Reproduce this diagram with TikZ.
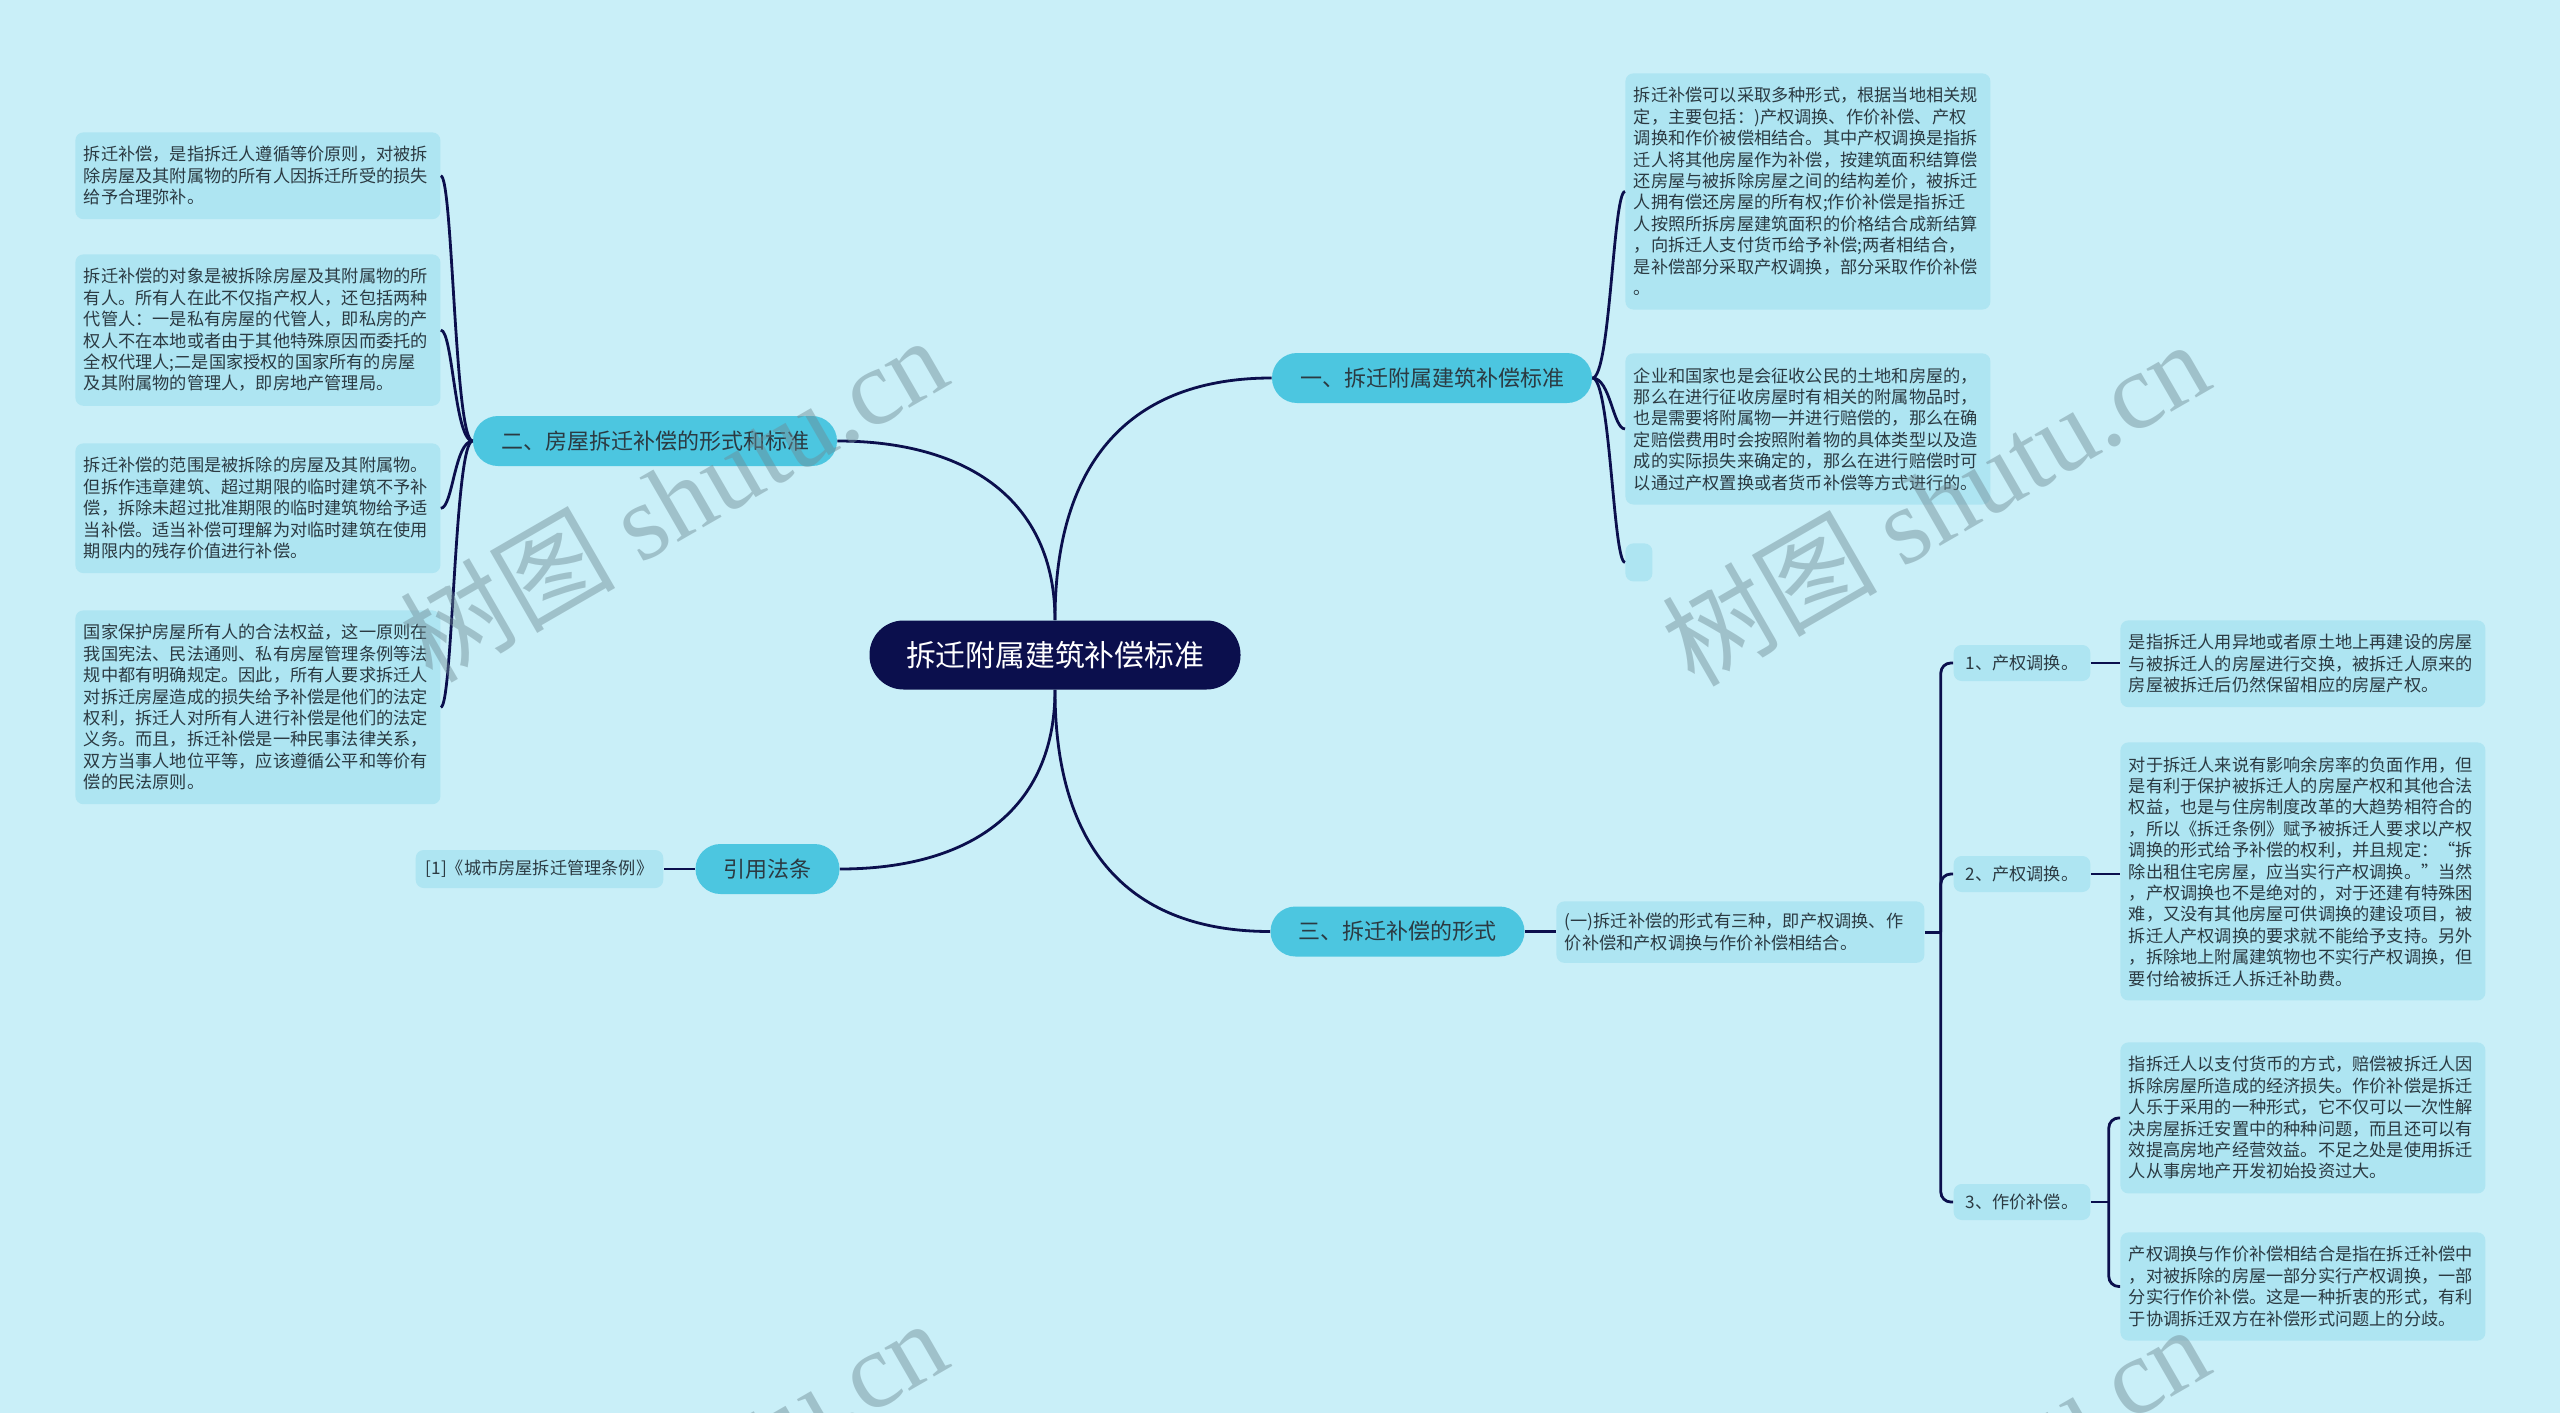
\documentclass[tikz,border=0pt]{standalone}
\usepackage{fontspec}
\setmainfont{Noto Sans CJK SC}
\newfontfamily\wmserif{Liberation Serif}

\definecolor{bgcol}{HTML}{C9EFF8}
\definecolor{leafcol}{HTML}{AEE5F2}
\definecolor{branchcol}{HTML}{4CC6E0}
\definecolor{navy}{HTML}{0B0F4D}
\definecolor{inkcol}{HTML}{2B3A42}
\definecolor{wmcol}{HTML}{6E8A93}

\tikzset{
  root/.style={fill=navy, text=white, rounded corners=17pt, minimum width=185.5pt,
    minimum height=34.5pt, font=\fontsize{14.9}{17}\selectfont},
  branch/.style={fill=branchcol, text=inkcol, rounded corners=12.5pt, minimum height=25pt,
    inner xsep=14pt, font=\fontsize{11}{13}\selectfont},
  leaf/.style={fill=leafcol, text=inkcol, rounded corners=4pt, text width=174pt, align=left,
    inner xsep=4.25pt, inner ysep=7pt, anchor=north west, font=\fontsize{8.6}{10.7}\selectfont},
  tag/.style={fill=leafcol, text=inkcol, rounded corners=4pt, minimum height=18pt,
    inner xsep=6pt, font=\fontsize{8.6}{10.7}\selectfont},
  link/.style={draw=navy, line width=1.4pt},
  wm/.style={text=wmcol, opacity=0.45, rotate=30, font=\fontsize{54}{54}\selectfont}
}

\begin{document}
\begin{tikzpicture}[x=0.5pt, y=-0.5pt]
  \useasboundingbox (0,0) rectangle (2560,1413);
  \fill[bgcol] (0,0) rectangle (2560,1413);

  % centre and main branches
  \node[root] (root) at (1055,655) {拆迁附属建筑补偿标准};
  \node[branch] (b1) at (1432,378) {一、拆迁附属建筑补偿标准};
  \node[branch] (b2) at (655,441) {二、房屋拆迁补偿的形式和标准};
  \node[branch] (bcite) at (767.5,869) {引用法条};
  \node[branch] (b3) at (1397.5,931.5) {三、拆迁补偿的形式};

  \draw[link] (root.north) .. controls +(0,-160) and +(-140,0) .. (b1.west);
  \draw[link] (root.north) .. controls +(0,-120) and +(130,0) .. (b2.east);
  \draw[link] (root.south) .. controls +(0,120) and +(130,0) .. (bcite.east);
  \draw[link] (root.south) .. controls +(0,160) and +(-140,0) .. (b3.west);

  % left side
  \node[leaf] (l1) at (75,132) {拆迁补偿，是指拆迁人遵循等价原则，对被拆\\
    除房屋及其附属物的所有人因拆迁所受的损失\\
    给予合理弥补。};
  \node[leaf] (l2) at (75,254) {拆迁补偿的对象是被拆除房屋及其附属物的所\\
    有人。所有人在此不仅指产权人，还包括两种\\
    代管人：一是私有房屋的代管人，即私房的产\\
    权人不在本地或者由于其他特殊原因而委托的\\
    全权代理人;二是国家授权的国家所有的房屋\\
    及其附属物的管理人，即房地产管理局。};
  \node[leaf] (l3) at (75,443) {拆迁补偿的范围是被拆除的房屋及其附属物。\\
    但拆作违章建筑、超过期限的临时建筑不予补\\
    偿，拆除未超过批准期限的临时建筑物给予适\\
    当补偿。适当补偿可理解为对临时建筑在使用\\
    期限内的残存价值进行补偿。};
  \node[leaf] (l4) at (75,610) {国家保护房屋所有人的合法权益，这一原则在\\
    我国宪法、民法通则、私有房屋管理条例等法\\
    规中都有明确规定。因此，所有人要求拆迁人\\
    对拆迁房屋造成的损失给予补偿是他们的法定\\
    权利，拆迁人对所有人进行补偿是他们的法定\\
    义务。而且，拆迁补偿是一种民事法律关系，\\
    双方当事人地位平等，应该遵循公平和等价有\\
    偿的民法原则。};
  \foreach \n in {l1,l2,l3,l4}
    \draw[link] (b2.west) .. controls +(-18,0) and +(12,0) .. (\n.east);

  \node[tag, inner xsep=5pt, minimum height=19pt] (cite) at (539.5,869) {[1]《城市房屋拆迁管理条例》};
  \draw[link] (bcite.west) -- (cite.east);

  % upper right
  \node[leaf] (r1) at (1625,73) {拆迁补偿可以采取多种形式，根据当地相关规\\
    定，主要包括：)产权调换、作价补偿、产权\\
    调换和作价被偿相结合。其中产权调换是指拆\\
    迁人将其他房屋作为补偿，按建筑面积结算偿\\
    还房屋与被拆除房屋之间的结构差价，被拆迁\\
    人拥有偿还房屋的所有权;作价补偿是指拆迁\\
    人按照所拆房屋建筑面积的价格结合成新结算\\
    ，向拆迁人支付货币给予补偿;两者相结合，\\
    是补偿部分采取产权调换，部分采取作价补偿\\
    。};
  \node[leaf] (r2) at (1625,353) {企业和国家也是会征收公民的土地和房屋的，\\
    那么在进行征收房屋时有相关的附属物品时，\\
    也是需要将附属物一并进行赔偿的，那么在确\\
    定赔偿费用时会按照附着物的具体类型以及造\\
    成的实际损失来确定的，那么在进行赔偿时可\\
    以通过产权置换或者货币补偿等方式进行的。};
  \node[leaf, text width=5pt, minimum height=19pt] (r3) at (1625,543) {};
  \foreach \n in {r1,r2,r3}
    \draw[link] (b1.east) .. controls +(18,0) and +(-12,0) .. (\n.west);

  % lower right
  \node[leaf, text width=175.5pt, inner ysep=6pt] (form) at (1556,901) {(一)拆迁补偿的形式有三种，即产权调换、作\\
    价补偿和产权调换与作价补偿相结合。};
  \draw[link] (b3.east) -- (b3.east -| form.west);

  \node[tag] (c1) at (2022,663) {1、产权调换。};
  \node[tag] (c2) at (2022,874) {2、产权调换。};
  \node[tag] (c3) at (2022,1202) {3、作价补偿。};
  \coordinate (fork) at ([xshift=8pt]form.east);
  \draw[link] (form.east) -- (fork);
  \draw[link, rounded corners=5pt] (c1.west) -| (fork) |- (c3.west);
  \draw[link, rounded corners=5pt] (fork) |- (c2.west);

  \node[leaf] (c1leaf) at (2120,620) {是指拆迁人用异地或者原土地上再建设的房屋\\
    与被拆迁人的房屋进行交换，被拆迁人原来的\\
    房屋被拆迁后仍然保留相应的房屋产权。};
  \node[leaf] (c2leaf) at (2120,742) {对于拆迁人来说有影响余房率的负面作用，但\\
    是有利于保护被拆迁人的房屋产权和其他合法\\
    权益，也是与住房制度改革的大趋势相符合的\\
    ，所以《拆迁条例》赋予被拆迁人要求以产权\\
    调换的形式给予补偿的权利，并且规定：“拆\\
    除出租住宅房屋，应当实行产权调换。”当然\\
    ，产权调换也不是绝对的，对于还建有特殊困\\
    难，又没有其他房屋可供调换的建设项目，被\\
    拆迁人产权调换的要求就不能给予支持。另外\\
    ，拆除地上附属建筑物也不实行产权调换，但\\
    要付给被拆迁人拆迁补助费。};
  \node[leaf] (c3a) at (2120,1042) {指拆迁人以支付货币的方式，赔偿被拆迁人因\\
    拆除房屋所造成的经济损失。作价补偿是拆迁\\
    人乐于采用的一种形式，它不仅可以一次性解\\
    决房屋拆迁安置中的种种问题，而且还可以有\\
    效提高房地产经营效益。不足之处是使用拆迁\\
    人从事房地产开发初始投资过大。};
  \node[leaf] (c3b) at (2120,1232) {产权调换与作价补偿相结合是指在拆迁补偿中\\
    ，对被拆除的房屋一部分实行产权调换，一部\\
    分实行作价补偿。这是一种折衷的形式，有利\\
    于协调拆迁双方在补偿形式问题上的分歧。};
  \draw[link] (c1.east) -- (c1.east -| c1leaf.west);
  \draw[link] (c2.east) -- (c2.east -| c2leaf.west);
  \coordinate (fork2) at ([xshift=9pt]c3.east);
  \draw[link] (c3.east) -- (fork2);
  \draw[link, rounded corners=5pt] (c3a.west) -| (fork2) |- (c3b.west);

  % watermarks
  \begin{scope}
    \clip (0,0) rectangle (2560,1413);
    \node[wm] (wm1) at (673,498) {树图 {\wmserif shutu.cn}};
    \node[wm] (wm2) at (1935,502) {树图 {\wmserif shutu.cn}};
    \node[wm] (wm3) at (673,1481) {树图 {\wmserif shutu.cn}};
    \node[wm] (wm4) at (1935,1487) {树图 {\wmserif shutu.cn}};
  \end{scope}
\end{tikzpicture}
\end{document}
